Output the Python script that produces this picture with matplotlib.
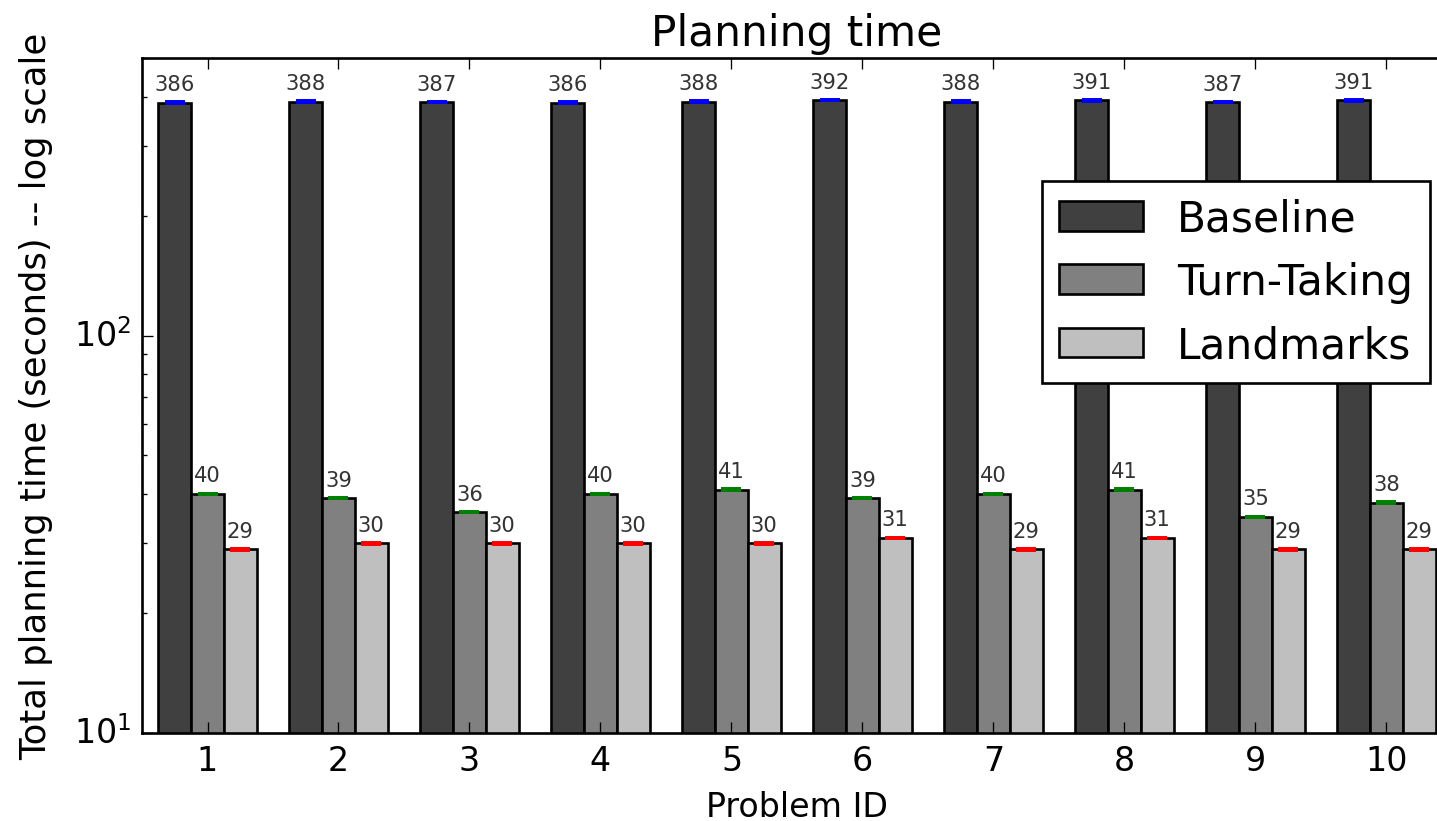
import numpy as np
import matplotlib
matplotlib.use("Agg")
import matplotlib.pyplot as plt

plt.style.use("classic")

# data
problems = [1, 2, 3, 4, 5, 6, 7, 8, 9, 10]
baseline = [386, 388, 387, 386, 388, 392, 388, 391, 387, 391]
turn_taking = [40, 39, 36, 40, 41, 39, 40, 41, 35, 38]
landmarks = [29, 30, 30, 30, 30, 31, 29, 31, 29, 29]
baseline_err = [0.6, 0.6, 0.6, 0.6, 0.6, 0.6, 0.6, 0.6, 0.6, 0.6]
turn_taking_err = [0.06, 0.06, 0.06, 0.06, 0.06, 0.06, 0.06, 0.06, 0.06, 0.06]
landmarks_err = [0.05, 0.05, 0.05, 0.05, 0.05, 0.05, 0.05, 0.05, 0.05, 0.05]

series = [
    ("Baseline", baseline, baseline_err, "0.25", "b", -0.25),
    ("Turn-Taking", turn_taking, turn_taking_err, "0.5", "g", 0.0),
    ("Landmarks", landmarks, landmarks_err, "0.75", "r", 0.25),
]
width = 0.25

fig = plt.figure(figsize=(1437 / 190, 822 / 190), dpi=190, facecolor="white")
ax = fig.add_axes([142 / 1437, 1 - 734 / 822, (1452 - 142) / 1437, (734 - 59) / 822])

x = np.array(problems)
for name, vals, err, col, ecol, off in series:
    ax.bar(x + off, vals, width, color=col, edgecolor="black", linewidth=1.0,
           label=name, align="center", log=True)
    ax.errorbar(x + off, vals, yerr=err, fmt="none", ecolor=ecol, capsize=3.8,
                elinewidth=1.0, capthick=1.5)
    for xi, v in zip(x + off, vals):
        ax.text(xi, v * 1.05, "%d" % v, ha="center", va="bottom", fontsize=8,
                color="0.2")

ax.set_yscale("log")
ax.set_ylim(10, 500)
ax.set_xlim(0.5, 10.5)
ax.set_xticks(problems)
ax.set_xticklabels([str(p) for p in problems])
ax.tick_params(axis="both", which="major", labelsize=12.6)
ax.set_xlabel("Problem ID", fontsize=12.6)
ax.set_ylabel("Total planning time (seconds) -- log scale", fontsize=13.4,
              labelpad=8)
ax.set_title("Planning time", fontsize=16)

leg = ax.legend(loc="upper right", bbox_to_anchor=(1430 / 1437, 1 - 182 / 822),
                bbox_transform=fig.transFigure, borderaxespad=0, fontsize=16)
leg.get_frame().set_linewidth(1.0)

fig.savefig("out.png", dpi=190, facecolor="white")
